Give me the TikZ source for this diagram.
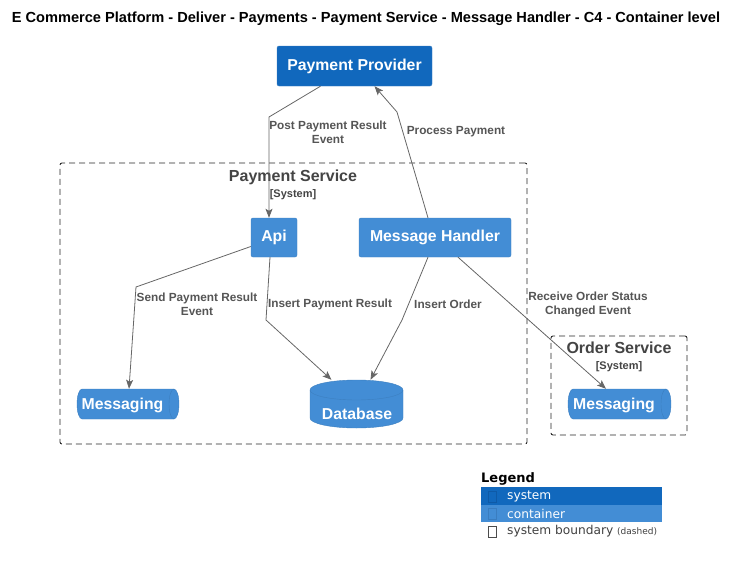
\documentclass[tikz,border=0pt]{standalone}
\usepackage{fontspec}
\setmainfont{Liberation Sans}
\newfontfamily\dejavu{DejaVu Sans}
\usetikzlibrary{arrows.meta,calc}
\definecolor{sysblue}{HTML}{1168BD}
\definecolor{sysborder}{HTML}{3C7FC0}
\definecolor{contblue}{HTML}{438DD5}
\definecolor{contborder}{HTML}{3C7FC0}
\definecolor{edgegray}{HTML}{666666}
\definecolor{labgray}{HTML}{555555}
\definecolor{bndtext}{HTML}{444444}
\definecolor{tofusys}{HTML}{0E5AA7}
\definecolor{tofucont}{HTML}{3A7DC0}
\begin{document}
\begin{tikzpicture}[x=1pt,y=-1pt,
  sysbox/.style={rectangle, rounded corners=2pt, fill=sysblue, draw=sysborder, text=white, font=\fontsize{15.8}{18}\selectfont\bfseries, inner sep=0pt},
  contbox/.style={rectangle, rounded corners=2pt, fill=contblue, draw=contborder, text=white, font=\fontsize{15.8}{18}\selectfont\bfseries, inner sep=0pt},
  cyl/.style={fill=contblue, draw=contborder},
  cyltext/.style={text=white, font=\fontsize{15.8}{18}\selectfont\bfseries, inner sep=0pt},
  anchorbox/.style={draw=none, inner sep=0pt},
  boundary/.style={draw=black!85, line width=0.9pt, dash pattern=on 6pt off 4pt, rounded corners=2pt, inner sep=0pt},
  btitle/.style={text=bndtext, font=\fontsize{16}{18}\selectfont\bfseries, inner sep=0pt},
  bsub/.style={text=bndtext, font=\fontsize{11}{13}\selectfont\bfseries, inner sep=0pt},
  edge/.style={draw=edgegray, line width=0.8pt, -{Stealth[length=9pt,width=7pt,inset=2pt]}},
  elabel/.style={text=labgray, font=\fontsize{11.8}{14}\selectfont\bfseries, align=center, inner sep=0pt},
  legtext/.style={font=\dejavu\fontsize{12.2}{14}\selectfont, inner sep=0pt, anchor=west}
]
\useasboundingbox (0,0) rectangle (739,565);

% title
\node[font=\fontsize{14.6}{17}\selectfont\bfseries, inner sep=0pt] (title) at (366,19) {E Commerce Platform - Deliver - Payments - Payment Service - Message Handler - C4 - Container level};

% boundaries
\node[boundary, minimum width=467pt, minimum height=281pt] (psb) at (293.5,303.5) {};
\node[btitle] (pst) at (293,177) {Payment Service};
\node[bsub] (pss) at (293,194.5) {[System]};
\node[boundary, minimum width=136pt, minimum height=99pt] (osb) at (619,385.5) {};
\node[btitle] (ost) at (619,348) {Order Service};
\node[bsub] (oss) at (619,366.5) {[System]};

% boxes
\node[sysbox, minimum width=155pt, minimum height=40pt] (pp) at (354.5,66) {Payment Provider};
\node[contbox, minimum width=46pt, minimum height=39pt] (api) at (274,237.5) {Api};
\node[contbox, minimum width=152pt, minimum height=39pt] (mh) at (435,237.5) {Message Handler};

% messaging left (horizontal cylinder)
\node[anchorbox, minimum width=102pt, minimum height=30pt] (msg1) at (128,404) {};
\path[cyl] (82,389) -- (174,389) arc[start angle=90, end angle=-90, x radius=5pt, y radius=15pt]
  -- (82,419) arc[start angle=270, end angle=90, x radius=5pt, y radius=15pt] -- cycle;
\draw[contborder] (174,389) arc[start angle=90, end angle=270, x radius=5pt, y radius=15pt];
\node[cyltext] (msg1t) at (122.5,405) {Messaging};

% messaging right
\node[anchorbox, minimum width=103pt, minimum height=30pt] (msg2) at (619.5,404) {};
\path[cyl] (573,389) -- (666,389) arc[start angle=90, end angle=-90, x radius=5pt, y radius=15pt]
  -- (573,419) arc[start angle=270, end angle=90, x radius=5pt, y radius=15pt] -- cycle;
\draw[contborder] (666,389) arc[start angle=90, end angle=270, x radius=5pt, y radius=15pt];
\node[cyltext] (msg2t) at (614,405) {Messaging};

% database (vertical cylinder)
\node[anchorbox, minimum width=93pt, minimum height=48pt] (db) at (356.5,404) {};
\path[cyl] (310,390) -- (310,418) arc[start angle=180, end angle=360, x radius=46.5pt, y radius=10pt]
  -- (403,390) arc[start angle=0, end angle=180, x radius=46.5pt, y radius=10pt] -- cycle;
\draw[contborder] (310,390) arc[start angle=180, end angle=360, x radius=46.5pt, y radius=10pt];
\node[cyltext] (dbt) at (357,414) {Database};

% edges
\draw[edge] ($(pp.south)+(-34,0)$) -- (269,117) -- ($(api.north)+(-5,0)$);
\node[elabel] (l1) at (328,132) {Post Payment Result\\Event};
\draw[edge] ($(mh.north)+(-7,0)$) -- (397,112) -- ($(pp.south)+(20,0)$);
\node[elabel] (l2) at (456,132) {Process Payment};
\draw[edge] ($(api.west)+(0,9)$) -- (136,287) -- ($(msg1.north)+(1,0)$);
\node[elabel] (l3) at (197,304) {Send Payment Result\\Event};
\draw[edge] ($(api.south)+(-4,0)$) -- (266,320) -- ($(db.north)+(-25,0)$);
\node[elabel] (l4) at (330,304) {Insert Payment Result};
\draw[edge] ($(mh.south)+(-7,0)$) -- (402,320) -- ($(db.north)+(14,0)$);
\node[elabel] (l5) at (448,304) {Insert Order};
\draw[edge] ($(mh.south)+(23,0)$) -- ($(msg2.north)+(-13.5,0)$);
\node[elabel] (l6) at (588,304) {Receive Order Status\\Changed Event};

% legend
\node[font=\dejavu\fontsize{13}{15}\selectfont\bfseries, inner sep=0pt, anchor=west] (leg) at (481,479) {Legend};
\fill[sysblue] (481,487) rectangle (662,505);
\fill[contblue] (481,505) rectangle (662,522);
\draw[tofusys, line width=0.6pt] (488,491.5) rectangle (496,502.5);
\draw[tofucont, line width=0.6pt] (488,508.5) rectangle (496,519.5);
\draw[black!70, line width=0.6pt] (488,526) rectangle (496,537);
\node[legtext, text=white] (ls) at (507,496) {system};
\node[legtext, text=white] (lc) at (507,513.5) {container};
\node[legtext, text=black!75] (lb) at (507,531) {system boundary {\fontsize{9}{10}\selectfont (dashed)}};
\end{tikzpicture}
\end{document}
